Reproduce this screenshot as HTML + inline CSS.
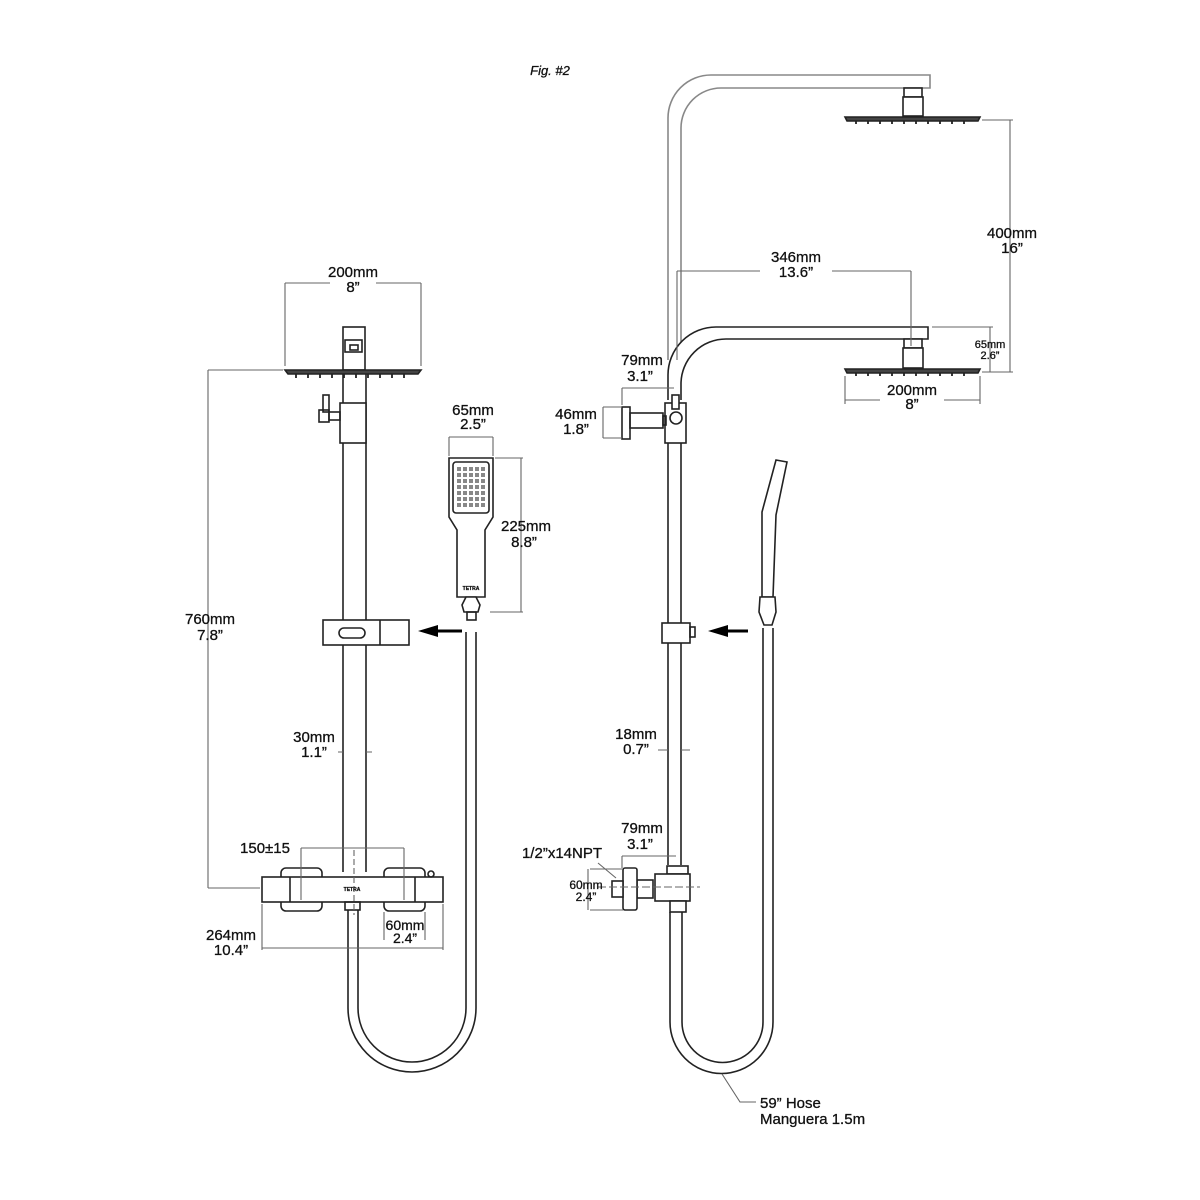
<!DOCTYPE html>
<html><head><meta charset="utf-8"><style>
html,body{margin:0;padding:0;background:#fff;}
svg{display:block;}
text{font-family:"Liberation Sans",Arial,sans-serif;fill:#111;stroke:#111;stroke-width:0.3;}
</style></head><body>
<svg width="1200" height="1200" viewBox="0 0 1200 1200" xmlns="http://www.w3.org/2000/svg">
<defs>
<pattern id="dots" x="456" y="466" width="6" height="6" patternUnits="userSpaceOnUse"><rect x="1" y="1" width="4" height="4" fill="#888"/></pattern>
</defs>
<g fill="none" stroke="#222" stroke-width="1.6">
<!-- ===== LEFT ===== -->
<rect x="343" y="327" width="22" height="43" fill="#fff"/>
<rect x="345" y="340" width="17" height="12"/>
<rect x="350" y="345" width="8" height="5"/>
<path d="M285 370 L421 370 L418 374 L288 374 Z" fill="#444"/>
<g stroke-width="1.8">
<path d="M296 374v4M308 374v4M320 374v4M332 374v4M344 374v4M356 374v4M368 374v4M380 374v4M392 374v4M404 374v4"/>
</g>
<path d="M343 374 V872 M366 374 V872"/>
<rect x="340" y="403" width="26" height="40" fill="#fff"/>
<rect x="319" y="410" width="10" height="12"/>
<rect x="323" y="395" width="6" height="17"/>
<rect x="329" y="412" width="11" height="8"/>
<rect x="323" y="620" width="86" height="25" fill="#fff"/>
<rect x="339" y="628" width="26" height="10" rx="5"/>
<path d="M380 620 V645"/>
<rect x="281" y="868" width="41" height="43" rx="5" fill="#fff"/>
<rect x="384" y="868" width="41" height="43" rx="5" fill="#fff"/>
<rect x="262" y="877" width="181" height="25" fill="#fff"/>
<path d="M290 877V902 M415 877V902"/>
<circle cx="431" cy="874" r="3"/>
<rect x="345" y="902" width="15" height="8"/>
<path d="M348 910 V1008 A64 64 0 0 0 476 1008 V632"/>
<path d="M358 910 V1008 A54 54 0 0 0 466 1008 V632"/>
<path d="M449 458 H493 V517 L485 530 V597 H457 V530 L449 517 Z" fill="#fff"/>
<rect x="453" y="462" width="36" height="51" rx="3"/>
<rect x="456" y="466" width="30" height="42" fill="url(#dots)" stroke="none"/>
<path d="M466 597 L462 605 L464 612 L478 612 L480 605 L476 597 Z" fill="#fff"/>
<rect x="467" y="612" width="9" height="8"/>
<g stroke="#666" stroke-width="1.1">
<path d="M285 283 H330 M376 283 H421 M285 283 V366 M421 283 V366"/>
<path d="M208 370 H283 M208 370 V888 M208 888 H260"/>
<path d="M449 437 H493 M449 437 V456 M493 437 V456"/>
<path d="M495 458 H523 M521 458 V612 M490 612 H523"/>
<path d="M301 848 H404 M301 848 V900 M404 848 V900"/>
<path d="M262 904 V950 M443 904 V950 M262 948 H443"/>
<path d="M384 912 V940 M425 912 V940"/>
<path d="M338 752 H343 M366 752 H372"/>
<path d="M354 850 V915" stroke-dasharray="6 3"/>
</g>
<path d="M436 631 H462" stroke="#000" stroke-width="3"/>
<path d="M418 631 L438 625 L438 637 Z" fill="#000" stroke="none"/>
<path d="M726 631 H748" stroke="#000" stroke-width="3"/>
<path d="M708 631 L728 625 L728 637 Z" fill="#000" stroke="none"/>

<!-- ===== RIGHT ===== -->
<g stroke="#888">
<path d="M668 360 V118 A43 43 0 0 1 711 75 H930 V88 H721 A40 40 0 0 0 681 128 V360"/>
</g>
<rect x="904" y="88" width="18" height="9" fill="#fff"/>
<rect x="903" y="97" width="20" height="19" fill="#fff"/>
<path d="M845 117 H980 L978 121 H847 Z" fill="#444"/>
<path d="M856 121v3M868 121v3M880 121v3M892 121v3M904 121v3M916 121v3M928 121v3M940 121v3M952 121v3M964 121v3" stroke-width="1.8"/>
<path d="M668 400 V375 A48 48 0 0 1 716 327 H928 V339 H726 A45 45 0 0 0 681 384 V400" fill="#fff"/>
<rect x="904" y="339" width="18" height="9" fill="#fff"/>
<rect x="903" y="348" width="20" height="20" fill="#fff"/>
<path d="M845 369 H980 L978 373 H847 Z" fill="#444"/>
<path d="M856 373v3M868 373v3M880 373v3M892 373v3M904 373v3M916 373v3M928 373v3M940 373v3M952 373v3M964 373v3" stroke-width="1.8"/>
<path d="M668 440 V865 M681 440 V865"/>
<rect x="665" y="403" width="21" height="40" fill="#fff"/>
<rect x="672" y="395" width="7" height="14" fill="#fff"/>
<circle cx="676" cy="418" r="6" fill="#fff"/>
<rect x="622" y="407" width="8" height="32" fill="#fff"/>
<rect x="630" y="413" width="33" height="15"/>
<rect x="663" y="416" width="3" height="9"/>
<rect x="662" y="623" width="28" height="20" fill="#fff"/>
<rect x="690" y="627" width="5" height="10"/>
<path d="M776 460 L787 462 L776 515 L773 597 L762 597 L762 512 Z" fill="#fff"/>
<path d="M760 597 L775 597 L776 612 L772 625 L764 625 L759 612 Z" fill="#fff"/>
<path d="M670 912 V1022 A51.5 51.5 0 0 0 773 1022 V628"/>
<path d="M682 912 V1022 A40.5 40.5 0 0 0 763 1022 V628"/>
<rect x="667" y="866" width="21" height="8" fill="#fff"/>
<rect x="655" y="874" width="35" height="27" fill="#fff"/>
<rect x="670" y="901" width="16" height="11" fill="#fff"/>
<rect x="637" y="880" width="16" height="18" fill="#fff"/>
<rect x="623" y="868" width="14" height="42" rx="2" fill="#fff"/>
<rect x="612" y="881" width="11" height="16" fill="#fff"/>
<g stroke="#666" stroke-width="1.1">
<path d="M982 120 H1013 M1010 120 V372 M982 372 H1013"/>
<path d="M932 327 H993 M990 327 V372"/>
<path d="M677 271 H760 M832 271 H911 M911 271 V346 M677 271 V360"/>
<path d="M845 376 V404 M980 376 V404 M845 400 H880 M944 400 H980"/>
<path d="M622 388 H674 M622 388 V405"/>
<path d="M603 407 H622 M603 438 H622 M603 407 V438"/>
<path d="M658 750 H668 M681 750 H690"/>
<path d="M622 856 H676 M622 856 V868"/>
<path d="M590 869 H623 M590 910 H623 M588 869 V910"/>
<path d="M598 887 H700" stroke-dasharray="8 3"/>
<path d="M598 863 L616 878"/>
<path d="M722 1074 L740 1102 H756"/>
</g>
</g>
<text x="550" y="75" font-size="13" font-style="italic" text-anchor="middle" stroke-width="0">Fig. #2</text>
<g font-size="15" text-anchor="middle">
<text x="353" y="277">200mm</text><text x="353" y="292">8”</text>
<text x="473" y="415">65mm</text><text x="473" y="429">2.5”</text>
<text x="526" y="531">225mm</text><text x="524" y="547">8.8”</text>
<text x="210" y="624">760mm</text><text x="210" y="640">7.8”</text>
<text x="314" y="742">30mm</text><text x="314" y="757">1.1”</text>
<text x="265" y="853">150±15</text>
<text x="231" y="940">264mm</text><text x="231" y="955">10.4”</text>
<text x="405" y="930" font-size="14">60mm</text><text x="405" y="943" font-size="14">2.4”</text>
<text x="1012" y="238">400mm</text><text x="1012" y="253">16”</text>
<text x="796" y="262">346mm</text><text x="796" y="277">13.6”</text>
<text x="990" y="348" font-size="11">65mm</text><text x="990" y="359" font-size="11">2.6”</text>
<text x="912" y="395">200mm</text><text x="912" y="409">8”</text>
<text x="642" y="365">79mm</text><text x="640" y="381">3.1”</text>
<text x="576" y="419">46mm</text><text x="576" y="434">1.8”</text>
<text x="636" y="739">18mm</text><text x="636" y="754">0.7”</text>
<text x="642" y="833">79mm</text><text x="640" y="849">3.1”</text>
<text x="562" y="858">1/2”x14NPT</text>
<text x="586" y="889" font-size="12">60mm</text><text x="586" y="901" font-size="12">2.4”</text>
</g>
<text x="760" y="1108" font-size="15">59” Hose</text>
<text x="760" y="1124" font-size="15">Manguera 1.5m</text>
<text x="352" y="891" font-size="5" text-anchor="middle" font-weight="bold" stroke-width="0">TETRA</text>
<text x="471" y="590" font-size="5" text-anchor="middle" font-weight="bold" stroke-width="0">TETRA</text>
</svg>
</body></html>
